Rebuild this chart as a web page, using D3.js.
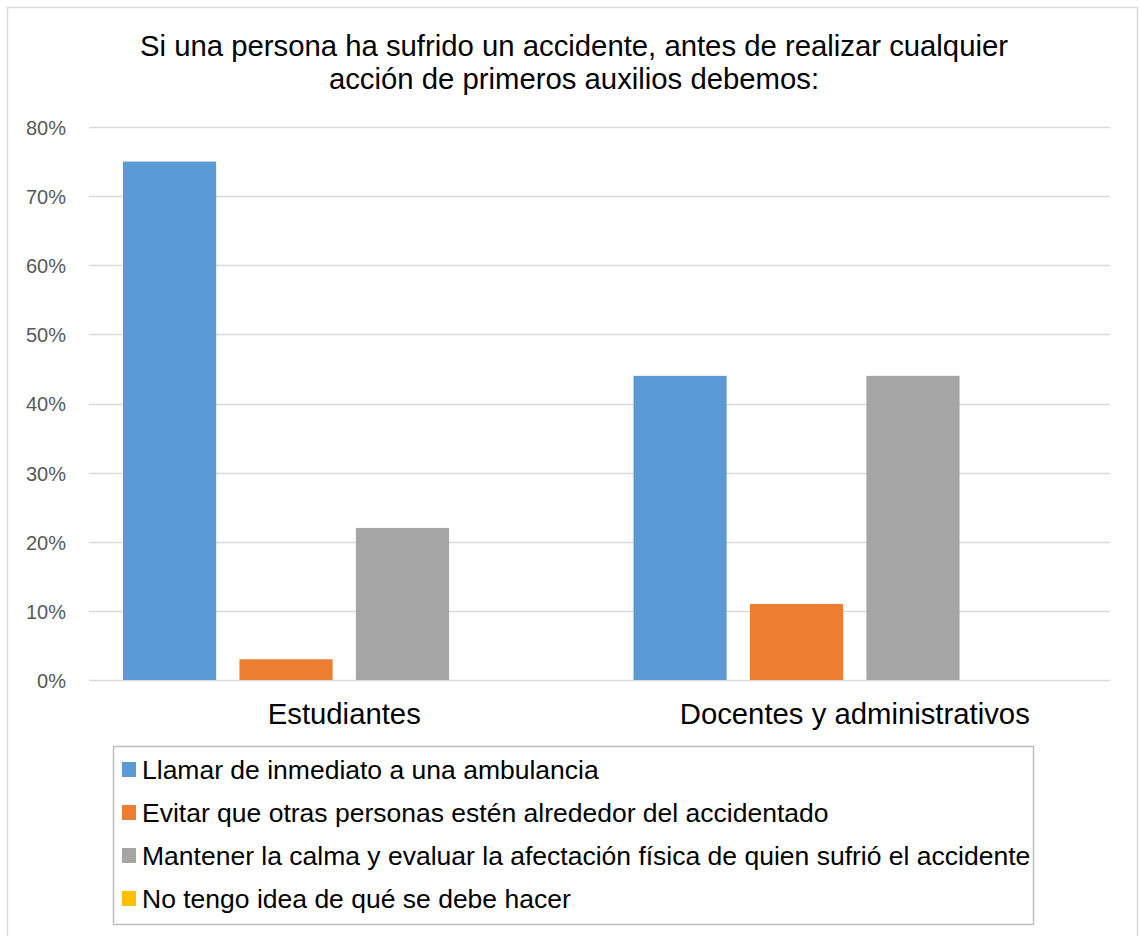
<!DOCTYPE html>
<html lang="es">
<head>
<meta charset="UTF-8">
<title>Primeros auxilios</title>
<script src="https://d3js.org/d3.v7.min.js"></script>
<style>
  body { margin: 0; background: #fff; }
  text { font-family: "Liberation Sans", Arial, sans-serif; }
</style>
</head>
<body>
<div id="chart"></div>
<script>
// data
const categories = ["Estudiantes", "Docentes y administrativos"];
const seriesNames = [
  "Llamar de inmediato a una ambulancia",
  "Evitar que otras personas estén alrededor del accidentado",
  "Mantener la calma y evaluar la afectación física de quien sufrió el accidente",
  "No tengo idea de qué se debe hacer"
];
const seriesColors = ["#5b9bd5", "#ed7d31", "#a5a5a5", "#ffc000"];
const llamar = [0.75, 0.44];
const evitar = [0.03, 0.11];
const mantener = [0.22, 0.44];
const noIdea = [0, 0];
const yTicks = [0, 0.1, 0.2, 0.3, 0.4, 0.5, 0.6, 0.7, 0.8];
const titleLines = ["Si una persona ha sufrido un accidente, antes de realizar cualquier",
                    "acción de primeros auxilios debemos:"];

const values = [llamar, evitar, mantener, noIdea];

const W = 1139, H = 936;
const plot = { left: 89, right: 1110, top: 127, bottom: 680 };

const svg = d3.select("#chart").append("svg")
  .attr("width", W).attr("height", H);

// outer frame
svg.append("rect")
  .attr("x", 7.5).attr("y", 7.5)
  .attr("width", 1130).attr("height", 940)
  .attr("fill", "#fff").attr("stroke", "#d9d9d9").attr("stroke-width", 1.5);

// title
svg.append("text")
  .attr("x", 574).attr("y", 56)
  .attr("text-anchor", "middle")
  .attr("font-size", 29.3).attr("fill", "#000")
  .selectAll("tspan").data(titleLines).enter().append("tspan")
  .attr("x", 574).attr("dy", (d, i) => i ? 33 : 0)
  .text(d => d);

// scales
const y = d3.scaleLinear().domain([0, 0.8]).range([plot.bottom, plot.top]);
const x0 = d3.scaleBand().domain(categories).range([plot.left, plot.right]);
const x1 = d3.scaleBand().domain(d3.range(seriesNames.length))
  .range([34, x0.bandwidth() - 34]).paddingInner(0.2);

// gridlines
svg.append("g").selectAll("line").data(yTicks).enter().append("line")
  .attr("x1", plot.left).attr("x2", plot.right)
  .attr("y1", d => Math.round(y(d)) + 0.5).attr("y2", d => Math.round(y(d)) + 0.5)
  .attr("stroke", "#d9d9d9").attr("stroke-width", 1.5);

// y axis labels
const yAxis = d3.axisLeft(y).tickValues(yTicks).tickFormat(d3.format(".0%")).tickSize(0).tickPadding(0);
const ya = svg.append("g").attr("transform", "translate(66,1)").call(yAxis);
ya.select(".domain").remove();
ya.selectAll("text").attr("font-size", 20).attr("fill", "#595959")
  .attr("font-family", "'Liberation Sans', Arial, sans-serif");

// bars
const groups = svg.append("g").selectAll("g").data(categories).enter().append("g")
  .attr("transform", d => "translate(" + x0(d) + ",0)");

groups.selectAll("rect")
  .data((c, ci) => values.map((s, si) => ({ si: si, v: s[ci] })))
  .enter().append("rect")
  .attr("x", d => x1(d.si))
  .attr("width", x1.bandwidth())
  .attr("y", d => y(d.v))
  .attr("height", d => y(0) - y(d.v))
  .attr("fill", d => seriesColors[d.si]);

// category axis
const xAxis = d3.axisBottom(x0).tickSize(0).tickPadding(0);
const xa = svg.append("g").attr("transform", "translate(0," + 703 + ")").call(xAxis);
xa.select(".domain").remove();
xa.selectAll("text").attr("font-size", 29.3).attr("fill", "#000")
  .attr("font-family", "'Liberation Sans', Arial, sans-serif");

// legend
const lg = svg.append("g");
lg.append("rect")
  .attr("x", 113.5).attr("y", 746.5).attr("width", 920).attr("height", 178)
  .attr("fill", "#fff").attr("stroke", "#bfbfbf").attr("stroke-width", 1.5);

const items = lg.selectAll("g.item").data(seriesNames).enter().append("g")
  .attr("class", "item")
  .attr("transform", (d, i) => "translate(122," + (779 + i * 43) + ")");
items.append("rect")
  .attr("x", 0).attr("y", -17).attr("width", 14).attr("height", 15)
  .attr("fill", (d, i) => seriesColors[i]);
items.append("text")
  .attr("x", 20).attr("y", 0)
  .attr("font-size", 26.5).attr("fill", "#000")
  .text(d => d);
</script>
</body>
</html>
